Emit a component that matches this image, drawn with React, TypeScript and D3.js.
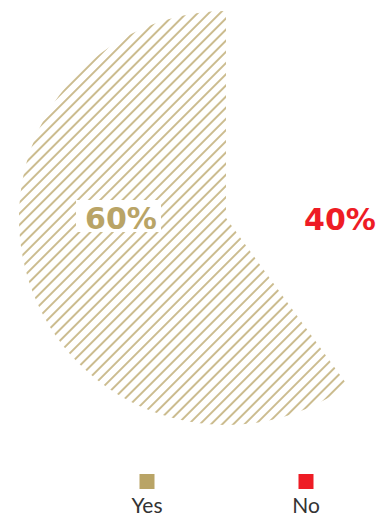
import React from "react";
import * as d3 from "d3";

const categories = ["Yes", "No"];
const values = [60, 40];
const colors = ["#b9a466", "#ee1c25"];
const labels = ["60%", "40%"];

const W = 381;
const H = 516;

export default function App() {
  const cx = 226;
  const cy = 218;
  const r = 207;
  const data = categories.map((c, i) => ({ c, v: values[i], color: colors[i], label: labels[i] }));
  // No slice starts at 12 o'clock, then Yes
  const pie = d3.pie<any>().sort(null).value((d: any) => d.v);
  const arcs = pie([...data].reverse());
  const arc = d3.arc<any>().innerRadius(0).outerRadius(r);
  const xLegend = d3.scalePoint<string>().domain(categories).range([147, 306]);
  return (
    <svg width={W} height={H} style={{ position: "absolute", left: 0, top: 0 }}>
      <defs>
        <pattern id="hatch" patternUnits="userSpaceOnUse" width={7.9} height={7.9} patternTransform="rotate(45)">
          <line x1={1} y1={-1} x2={1} y2={9} stroke={colors[0]} strokeWidth={1.45} />
        </pattern>
      </defs>
      <g transform={`translate(${cx},${cy})`}>
        {arcs.map((a: any) => (
          <path key={a.data.c} d={arc(a) as string} fill={a.data.c === "Yes" ? "url(#hatch)" : "none"} />
        ))}
      </g>
      <rect x={76} y={200} width={85} height={32} fill="#fff" />
      <text x={121} y={229} textAnchor="middle" fontFamily="'DejaVu Sans'" fontWeight={700} fontSize={30} fill={colors[0]}>
        {labels[0]}
      </text>
      <text x={340} y={230} textAnchor="middle" fontFamily="'DejaVu Sans'" fontWeight={700} fontSize={30} fill={colors[1]}>
        {labels[1]}
      </text>
      {data.map((d) => (
        <g key={d.c}>
          <rect x={(xLegend(d.c) as number) - 7.5} y={474} width={15} height={15} fill={d.color} />
          <text x={xLegend(d.c)} y={513} textAnchor="middle" fontFamily="Lato" fontSize={21} fill="#333">
            {d.c}
          </text>
        </g>
      ))}
    </svg>
  );
}
